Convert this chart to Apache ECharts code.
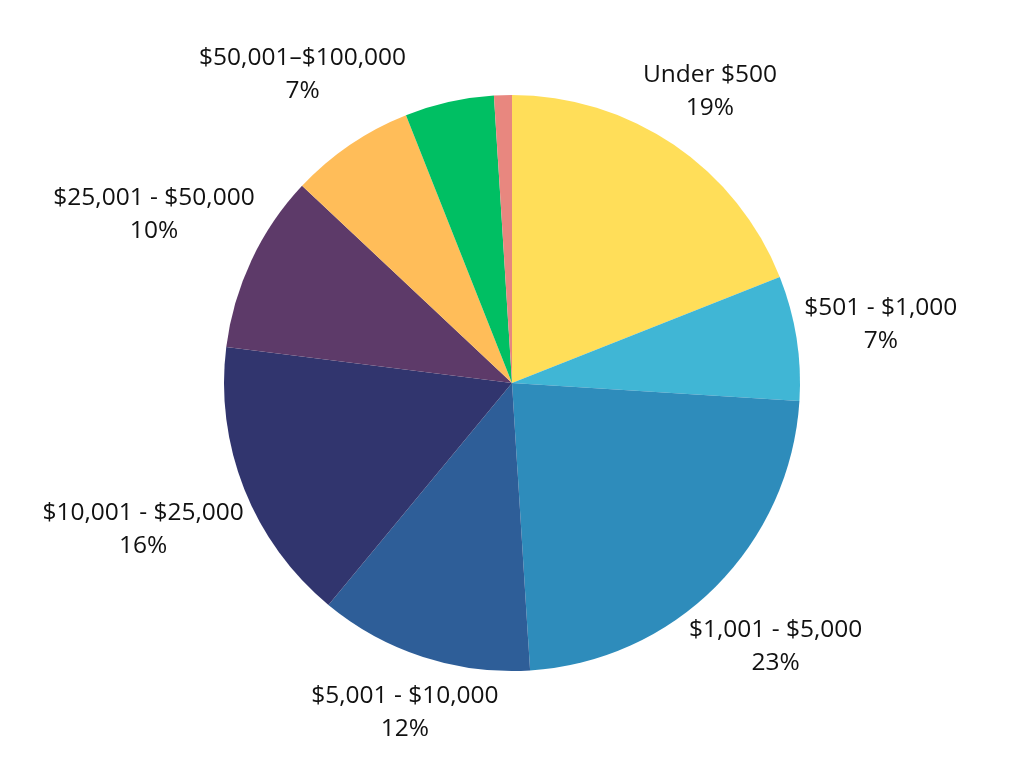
<!DOCTYPE html>
<html>
<head>
<meta charset="utf-8">
<script src="https://cdn.jsdelivr.net/npm/echarts@6/dist/echarts.min.js"></script>
<style>
html,body{margin:0;padding:0;background:#fff;}
#chart{width:1024px;height:768px;}
</style>
</head>
<body>
<div id="chart"></div>
<script>
const categories = ['Under $500', '$501 - $1,000', '$1,001 - $5,000', '$5,001 - $10,000', '$10,001 - $25,000', '$25,001 - $50,000', '$50,001\u2013$100,000', '$100,001 - $250,000', 'Over $250,000'];
const values = [19, 7, 23, 12, 16, 10, 7, 5, 1];
const colors = ['#FFDE59', '#40B6D5', '#2E8CBB', '#2E5E98', '#31356E', '#5D3A69', '#FFBD59', '#00BF63', '#E8877F'];
const showLabel = [true, true, true, true, true, true, true, false, false];

const CX = 512, CY = 383, R = 288, GAP = 6;
const total = values.reduce((a, b) => a + b, 0);

const chart = echarts.init(document.getElementById('chart'), null, {renderer: 'canvas'});
chart.setOption({
  backgroundColor: '#ffffff',
  animation: false,
  series: [{
    type: 'pie',
    center: [CX, CY],
    radius: [0, R],
    startAngle: 90,
    clockwise: true,
    avoidLabelOverlap: false,
    itemStyle: {borderWidth: 0},
    label: {
      show: true,
      position: 'outside',
      fontFamily: '"Open Sans"',
      fontSize: 24.5,
      lineHeight: 33,
      color: '#111111',
      formatter: p => p.name + '\n' + Math.round(p.percent) + '%'
    },
    labelLine: {show: false},
    labelLayout: function (params) {
      const i = params.dataIndex;
      let before = 0;
      for (let k = 0; k < i; k++) before += values[k];
      const mid = (before + values[i] / 2) / total * Math.PI * 2;
      const s = Math.sin(mid), c = Math.cos(mid);
      const w = params.labelRect.width / 2, h = params.labelRect.height / 2 * 0.75;
      const r = R + GAP + w * Math.abs(s) + h * Math.abs(c);
      return {x: CX + r * s, y: CY - r * c, align: 'center', verticalAlign: 'middle'};
    },
    data: categories.map((name, i) => ({
      name: name,
      value: values[i],
      itemStyle: {color: colors[i]},
      label: {show: showLabel[i]}
    }))
  }]
});
</script>
</body>
</html>
